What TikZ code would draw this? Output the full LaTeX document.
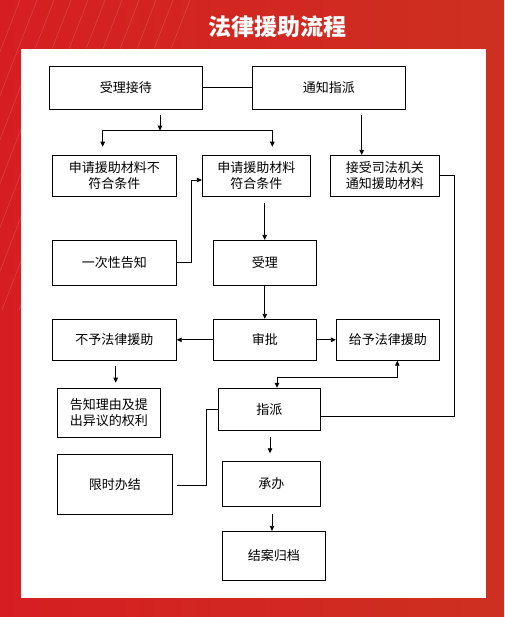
\documentclass[tikz,border=0pt]{standalone}
\usepackage{fontspec}
\setmainfont{Noto Sans CJK SC}
\usetikzlibrary{arrows.meta,calc}
\definecolor{bgleft}{RGB}{214,30,34}
\definecolor{bgmid}{RGB}{188,16,20}
\definecolor{bgright}{RGB}{205,48,32}

\begin{document}
\begin{tikzpicture}[x=1pt,y=-1pt,
    box/.style={draw,line width=0.8pt,inner sep=0pt,align=center,font=\fontsize{13}{16.5}\selectfont},
    arr/.style={line width=0.8pt,-{Triangle[length=5pt,width=4.5pt]}},
    arrboth/.style={line width=0.8pt,{Triangle[length=5pt,width=4.5pt]}-{Triangle[length=5pt,width=4.5pt]}},
    ln/.style={line width=0.8pt}]
  \useasboundingbox (0,0) rectangle (504,617);
  \shade[left color=bgleft,middle color=bgmid,right color=bgright] (0,0) rectangle (504,617);
  \foreach \i in {0,...,10}
    \draw[white,opacity=0.16,line width=0.6pt] (20+\i*17,0) -- (\i*17-100,310);
  \fill[white] (21,49) rectangle (486,598);
  \node[white,font=\fontsize{23}{26}\selectfont\bfseries] (title) at (277,27) {法律援助流程};

  \node[box,minimum width=153,minimum height=43] (jd) at (125.8,87.8) {受理接待};
  \node[box,minimum width=153,minimum height=43] (tz) at (328.8,87.8) {通知指派};
  \node[box,minimum width=124,minimum height=41] (bfh) at (114.3,175.8) {申请援助材料不\\符合条件};
  \node[box,minimum width=108,minimum height=41] (fh) at (256.3,175.8) {申请援助材料\\符合条件};
  \node[box,minimum width=109,minimum height=41] (js) at (384.8,175.8) {接受司法机关\\通知援助材料};
  \node[box,minimum width=124,minimum height=45] (yc) at (114.3,262.8) {一次性告知};
  \node[box,minimum width=103,minimum height=45] (sl) at (264.8,262.8) {受理};
  \node[box,minimum width=124,minimum height=41] (by) at (114.3,339.8) {不予法律援助};
  \node[box,minimum width=103,minimum height=41] (sp) at (264.8,339.8) {审批};
  \node[box,minimum width=103,minimum height=41] (gy) at (387.8,339.8) {给予法律援助};
  \node[box,minimum width=103,minimum height=49] (gz) at (108.8,412.8) {告知理由及提\\出异议的权利};
  \node[box,minimum width=102,minimum height=42] (zp) at (269.3,409.2) {指派};
  \node[box,minimum width=115,minimum height=60] (xs) at (114.8,484.3) {限时办结};
  \node[box,minimum width=98,minimum height=45] (cb) at (271.3,483.8) {承办};
  \node[box,minimum width=103,minimum height=49] (ja) at (273.8,555.8) {结案归档};

  \draw[ln] (jd.east) -- (tz.west);
  \coordinate (jdo) at (160,115);
  \coordinate (fork) at (160,130.7);
  \coordinate (bl) at (102.7,146.7);
  \coordinate (br) at (272.3,146.7);
  \draw[arr] (jdo) -- (fork);
  \draw[arr] (fork) -| (bl);
  \draw[arr] (fork) -| (br);
  \coordinate (tzo) at (361.7,115);
  \draw[arr] (tzo) -- (tzo |- js.north);
  \coordinate (rt) at (454,416);
  \draw[ln] (js.east) -| (rt) -- (rt -| zp.east);
  \coordinate (k1) at (191.7,180);
  \draw[arr] (yc.east) -| (k1) -- (k1 -| fh.west);
  \coordinate (fho) at (264.7,203);
  \draw[arr] (fho) -- (fho |- sl.north);
  \draw[arr] (sl.south) -- (sp.north);
  \draw[arr] (sp.west) -- (by.east);
  \draw[arr] (sp.east) -- (gy.west);
  \coordinate (byo) at (115.7,366);
  \coordinate (gzi) at (115.7,382.7);
  \draw[arr] (byo) -- (gzi);
  \coordinate (k2a) at (397.3,377.3);
  \coordinate (k2b) at (277,377.3);
  \draw[arrboth] (gy.south -| k2a) -- (k2a) -- (k2b) -- (zp.north -| k2b);
  \coordinate (k3) at (206.7,485);
  \draw[ln,shorten >=4pt] (zp.west) -| (k3) -- (k3 -| xs.east);
  \coordinate (zpo) at (270,436.7);
  \coordinate (cbi) at (270,453.3);
  \draw[arr] (zpo) -- (cbi);
  \coordinate (cbo) at (272,514.3);
  \draw[arr] (cbo) -- (cbo |- ja.north);
\end{tikzpicture}
\end{document}
